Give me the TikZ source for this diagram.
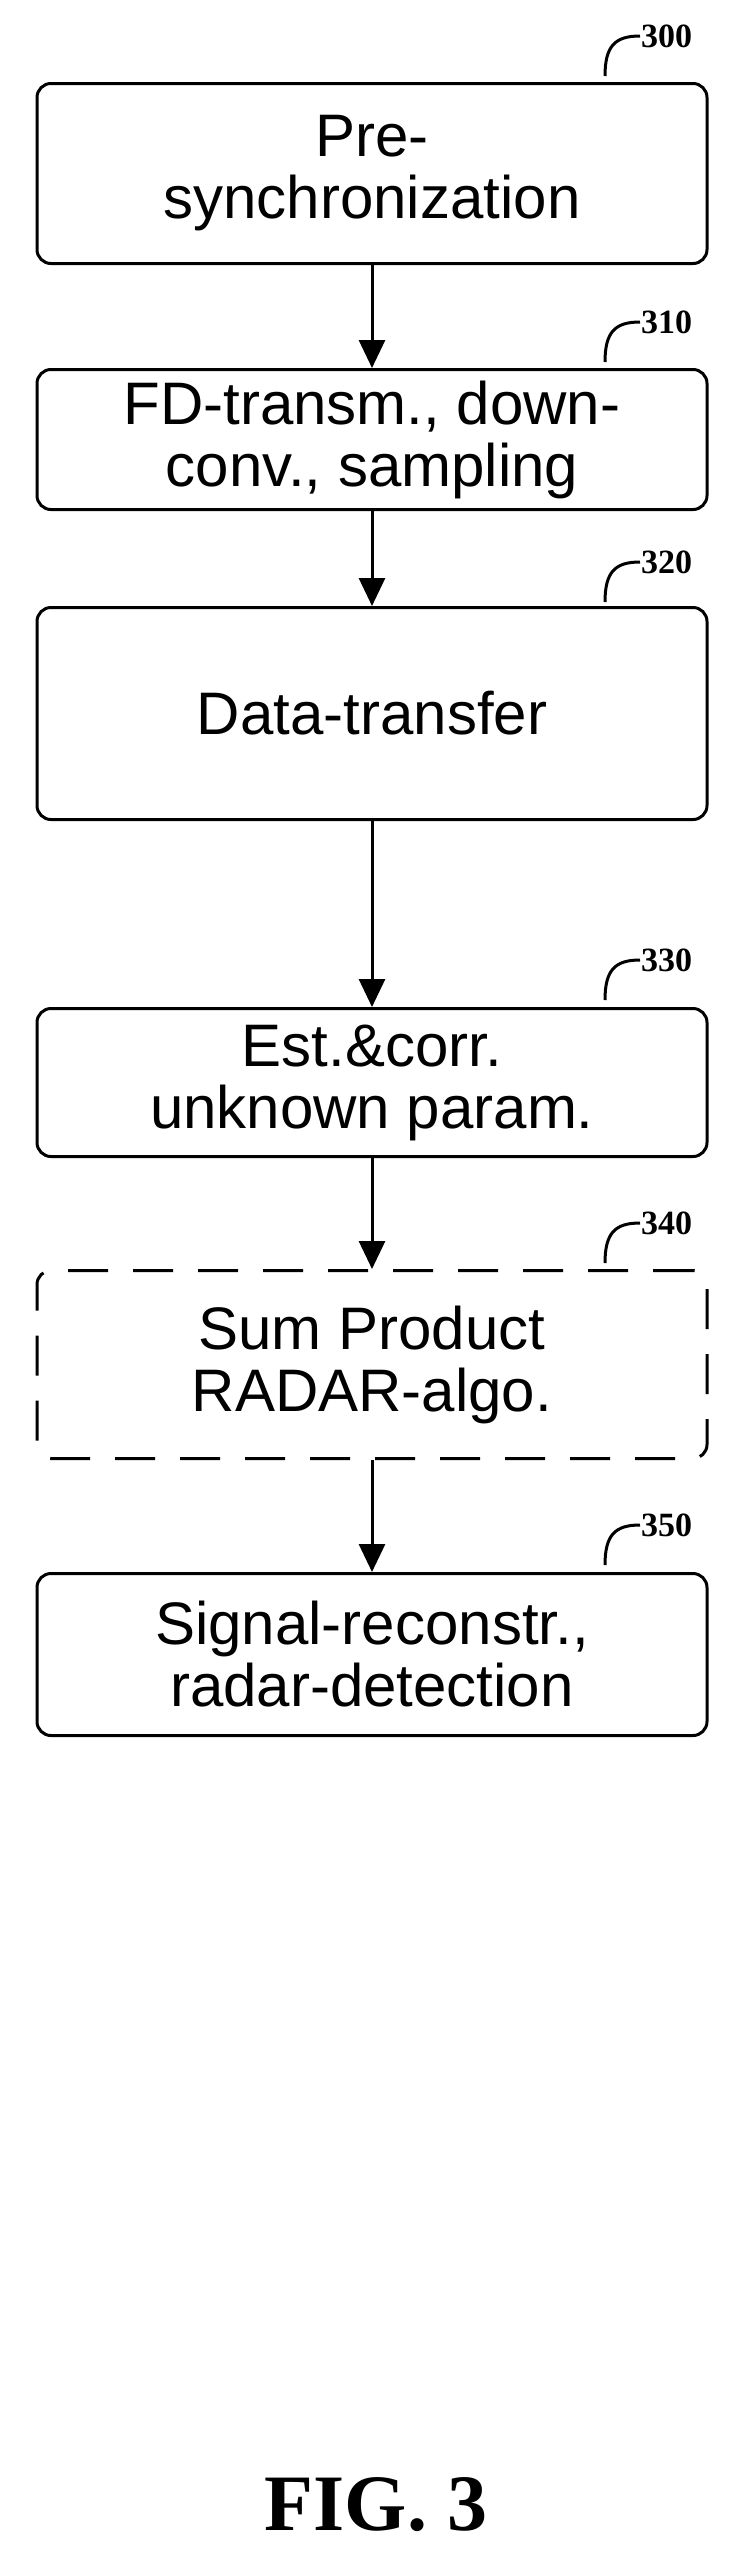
\documentclass[tikz,border=0pt]{standalone}
\usepackage{fontspec}
\setmainfont{Liberation Serif}
\setsansfont{Liberation Sans}
\usetikzlibrary{arrows.meta}
\begin{document}
\begin{tikzpicture}[x=1pt,y=-1pt,
 box/.style={draw,line width=3pt,rounded corners=14pt,minimum width=670pt,align=center,font=\sffamily\fontsize{60}{62}\selectfont,anchor=north,inner sep=2pt},
 lab/.style={font=\bfseries\fontsize{34}{36}\selectfont,anchor=west,inner sep=1pt},
 hook/.style={line width=3pt},
 arr/.style={line width=3pt,-{Triangle[length=28pt,width=26pt]}}]
\useasboundingbox (0,0) rectangle (753,2559);
\node[box,minimum height=180pt] (b300) at (372,82) {Pre-\\synchronization};
\node[box,minimum height=140pt] (b310) at (372,368) {FD-transm., down-\\conv., sampling};
\node[box,minimum height=212pt] (b320) at (372,606) {Data-transfer};
\node[box,minimum height=148pt] (b330) at (372,1007) {Est.\&corr.\\unknown param.};
\node[box,minimum height=188pt,dashed,dash pattern=on 40pt off 25pt] (b340) at (372,1269) {Sum Product\\RADAR-algo.};
\node[box,minimum height=162pt] (b350) at (372,1572) {Signal-reconstr.,\\radar-detection};
\foreach \n/\y in {300/36,310/322,320/562,330/960,340/1223,350/1525}{
 \node[lab] (l\n) at (640,\y) {\n};
 \coordinate (h\n) at (605,\y+40);
 \draw[hook] (h\n) .. controls (605,\y+10) and (615,\y) .. (l\n.west);
}
\draw[arr] (b300) -- (b310);
\draw[arr] (b310) -- (b320);
\draw[arr] (b320) -- (b330);
\draw[arr] (b330) -- (b340);
\draw[arr] (b340) -- (b350);
\node[font=\bfseries\fontsize{80}{84}\selectfont] (fig) at (376,2505) {FIG. 3};
\end{tikzpicture}
\end{document}
